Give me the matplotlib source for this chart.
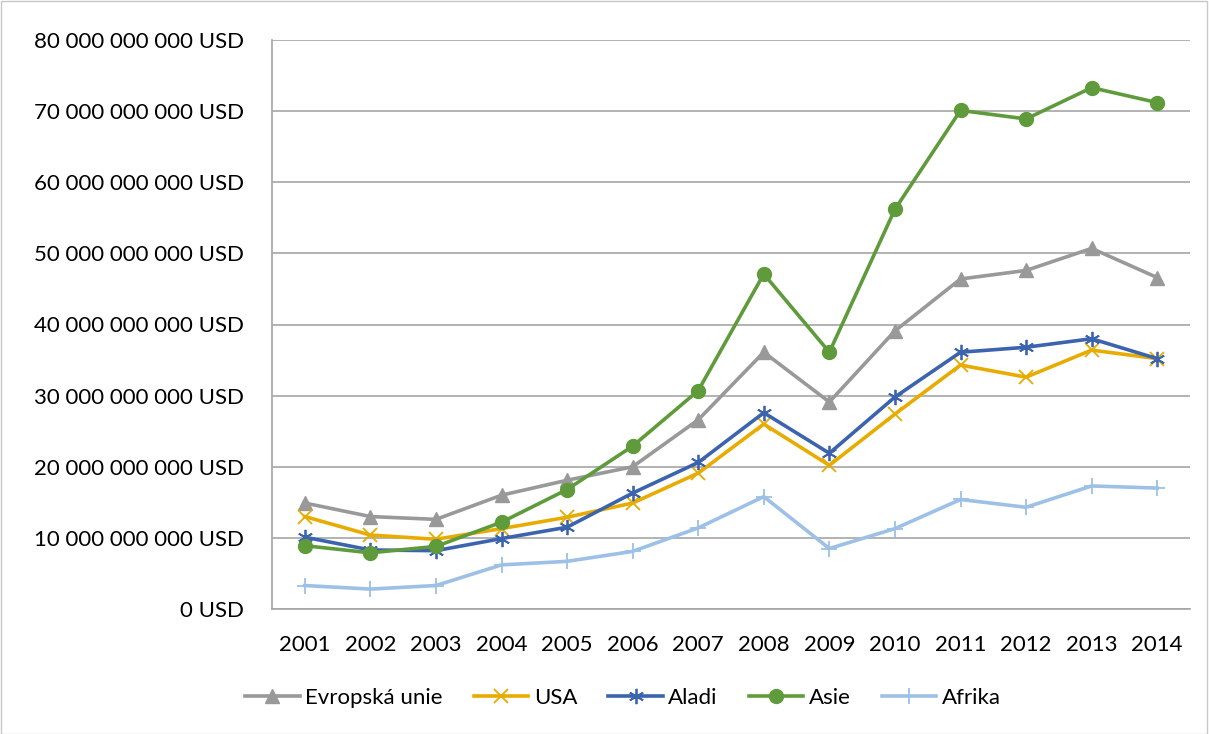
import matplotlib
matplotlib.use("Agg")
import matplotlib.pyplot as plt
from matplotlib.ticker import FuncFormatter, MultipleLocator
from matplotlib.patches import Rectangle

plt.rcParams['font.family'] = ['Lato', 'DejaVu Sans']

years = ["2001", "2002", "2003", "2004", "2005", "2006", "2007",
         "2008", "2009", "2010", "2011", "2012", "2013", "2014"]

# values in billions of USD
eu = [14.9, 13.0, 12.6, 16.0, 18.1, 20.0, 26.6, 36.1, 29.1, 39.1, 46.4, 47.6, 50.7, 46.6]
usa = [13.0, 10.4, 9.8, 11.3, 12.9, 14.9, 19.1, 26.0, 20.2, 27.4, 34.3, 32.6, 36.4, 35.2]
aladi = [10.1, 8.3, 8.2, 9.9, 11.5, 16.3, 20.6, 27.6, 21.9, 29.8, 36.1, 36.8, 38.0, 35.2]
asie = [8.9, 7.9, 8.8, 12.2, 16.8, 22.9, 30.7, 47.1, 36.1, 56.2, 70.1, 68.9, 73.3, 71.2]
afrika = [3.3, 2.8, 3.3, 6.2, 6.7, 8.1, 11.4, 15.8, 8.5, 11.3, 15.4, 14.3, 17.3, 17.0]

series = [
    ("Evropská unie", eu, "#999999", "^", 10),
    ("USA", usa, "#E8AB00", "x", 10),
    ("Aladi", aladi, "#3C64AE", (6, 2, 0), 11),
    ("Asie", asie, "#5F9B3B", "o", 10),
    ("Afrika", afrika, "#9DC0E6", "+", 11),
]

fig = plt.figure(figsize=(12.09, 7.34), dpi=100)
ax = fig.add_axes([272 / 1209, 1 - 609 / 734, (1190 - 272) / 1209, (609 - 40) / 734])

xs = list(range(len(years)))
for name, vals, col, mk, ms in series:
    ax.plot(xs, [v * 1e9 for v in vals], color=col, lw=2.6, marker=mk, ms=ms,
            mew=1.3 if mk in ("x", "+") or isinstance(mk, tuple) else 1,
            label=name, zorder=3)

ax.set_xlim(-0.5, len(years) - 0.5)
ax.set_ylim(0, 80e9)
ax.yaxis.set_major_locator(MultipleLocator(10e9))
ax.yaxis.set_major_formatter(FuncFormatter(
    lambda v, p: "{:,.0f}".format(v).replace(",", " ") + " USD"))
ax.set_xticks(xs)
ax.set_xticklabels(years)
ax.grid(axis="y", color="#A6A6A6", lw=1.2)
ax.set_axisbelow(True)
for s in ("top", "right"):
    ax.spines[s].set_visible(False)
for s in ("left", "bottom"):
    ax.spines[s].set_color("#A6A6A6")
    ax.spines[s].set_linewidth(1.2)
ax.tick_params(axis="both", length=0, labelsize=16, colors="black")
ax.tick_params(axis="y", pad=20)
ax.tick_params(axis="x", pad=19)

fig.legend(loc="center", bbox_to_anchor=(623 / 1209, 1 - 698 / 734), ncol=5,
           frameon=False, fontsize=16, handlelength=2.45, columnspacing=1.4,
           handletextpad=0.25)

fig.patches.append(Rectangle((0.0005, 0.0005), 0.998, 0.998, transform=fig.transFigure,
                             fill=False, edgecolor="#C8C8C8", lw=1))

fig.savefig("out.png", dpi=100)
